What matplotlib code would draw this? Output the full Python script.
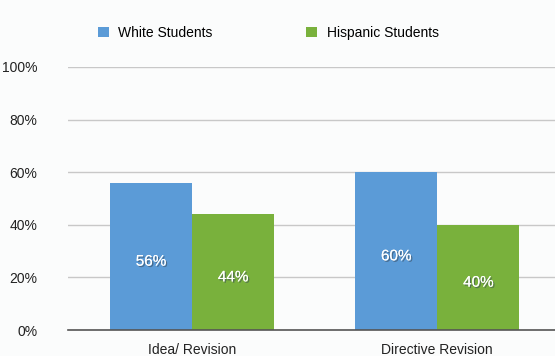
import numpy as np
import matplotlib.pyplot as plt
import matplotlib.patheffects as pe

plt.rcParams['font.family'] = ['Liberation Sans', 'DejaVu Sans']

categories = ['Idea/ Revision', 'Directive Revision']
white = [56, 60]
hispanic = [44, 40]
series_names = ['White Students', 'Hispanic Students']
yticks = [0, 20, 40, 60, 80, 100]

blue = '#5b9bd7'
green = '#79b13c'

fig = plt.figure(figsize=(5.55, 3.56), dpi=100)
fig.patch.set_facecolor('#fbfcfc')
ax = fig.add_axes([0.1225, 0.073, 0.8775, 0.739])
ax.set_facecolor('#fbfcfc')

x = np.arange(len(categories))
w = 0.335
b1 = ax.bar(x - w / 2, white, w, color=blue, label=series_names[0], zorder=3)
b2 = ax.bar(x + w / 2, hispanic, w, color=green, label=series_names[1], zorder=3)

shadow = [pe.withSimplePatchShadow(offset=(1, -1), shadow_rgbFace='#3a4a5a', alpha=0.6), pe.Normal()]
for bars, vals in [(b1, white), (b2, hispanic)]:
    for bar, v in zip(bars, vals):
        ax.text(bar.get_x() + bar.get_width() / 2, v / 2 - 2, f'{v}%',
                ha='center', va='center', color='white', fontsize=11,
                path_effects=shadow, zorder=4)

ax.set_xlim(-0.506, 1.48)
ax.set_ylim(0, 100)
ax.set_yticks(yticks)
ax.set_yticklabels([f'{t}%' for t in yticks])
ax.set_xticks(x)
ax.set_xticklabels(categories)
ax.tick_params(axis='both', length=0, labelsize=10, colors='#222222')
ax.tick_params(axis='y', pad=22)
ax.tick_params(axis='x', pad=9)
ax.yaxis.grid(True, color='#c8c8c8', linewidth=1.0, zorder=0)
for s in ['top', 'right', 'left']:
    ax.spines[s].set_visible(False)
ax.spines['bottom'].set_color('#555555')
ax.spines['bottom'].set_linewidth(1.2)
ax.spines['bottom'].set_zorder(5)

ax.legend(loc='center left', bbox_to_anchor=(0.035, 1.13), ncol=2, frameon=False,
          fontsize=10, handlelength=0.8, handleheight=0.8, handletextpad=0.7,
          columnspacing=6.7)

fig.savefig('out.png', dpi=100, facecolor=fig.get_facecolor())
